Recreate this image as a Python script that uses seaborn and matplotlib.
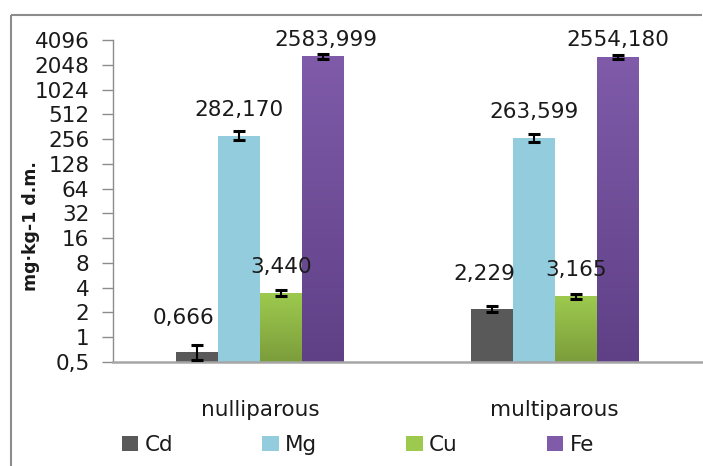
import numpy as np
import pandas as pd
import matplotlib
matplotlib.use("Agg")
import matplotlib.pyplot as plt
from matplotlib.lines import Line2D
from matplotlib.patches import Patch
from matplotlib.colors import LinearSegmentedColormap
import seaborn as sns

# --- data -------------------------------------------------------------
groups = ["nulliparous", "multiparous"]
elements = ["Cd", "Mg", "Cu", "Fe"]
cd_vals = [0.666, 2.229]
mg_vals = [282.170, 263.599]
cu_vals = [3.440, 3.165]
fe_vals = [2583.999, 2554.180]
cd_err = [0.14, 0.20]
mg_err = [35.0, 30.0]
cu_err = [0.30, 0.22]
fe_err = [160.0, 150.0]
label_texts = {
    "Cd": ["0,666", "2,229"],
    "Mg": ["282,170", "263,599"],
    "Cu": ["3,440", "3,165"],
    "Fe": ["2583,999", "2554,180"],
}
ytick_vals = [0.5, 1, 2, 4, 8, 16, 32, 64, 128, 256, 512, 1024, 2048, 4096]
ytick_labels = ["0,5", "1", "2", "4", "8", "16", "32", "64", "128", "256",
                "512", "1024", "2048", "4096"]
ylabel = "mg·kg-1 d.m."

values = {"Cd": cd_vals, "Mg": mg_vals, "Cu": cu_vals, "Fe": fe_vals}
errors = {"Cd": cd_err, "Mg": mg_err, "Cu": cu_err, "Fe": fe_err}

rows = []
for el in elements:
    for g, v in zip(groups, values[el]):
        rows.append({"group": g, "element": el, "value": v})
df = pd.DataFrame(rows)

# --- style --------------------------------------------------------------
palette = {"Cd": "#595959", "Mg": "#93CDDD", "Cu": "#8DB543", "Fe": "#71509A"}
gradients = {
    "Cu": ("#9DCA4E", "#7C9D3B"),
    "Fe": ("#7F5BA9", "#5F4086"),
}
# label offsets (pixels) from the top of each bar: (dx, dy) per group
label_offsets = {
    "Cd": [(-14, 34), (-7, 35)],
    "Mg": [(0, 26), (0, 26)],
    "Cu": [(0, 26), (0, 26)],
    "Fe": [(3, 16), (0, 17)],
}

sns.set_style("white")
plt.rcParams["font.family"] = ["DejaVu Sans"]
FS = 15.5

W, H = 703, 466
fig = plt.figure(figsize=(W / 100, H / 100), dpi=100)
ax = fig.add_axes([113 / W, (H - 362) / H, (702 - 113) / W, (362 - 40) / H])

sns.barplot(data=df, x="group", y="value", hue="element", hue_order=elements,
            order=groups, palette=palette, width=0.57, gap=0, saturation=1,
            errorbar=None, ax=ax, legend=False, linewidth=0)

ax.set_yscale("log", base=2)
ax.set_ylim(0.5, 4096)
ax.set_xlim(-0.5, 1.5)
ax.set_yticks(ytick_vals)
ax.set_yticklabels(ytick_labels)
ax.yaxis.set_minor_locator(matplotlib.ticker.NullLocator())
ax.set_xlabel("")
ax.set_ylabel("")

for s in ["top", "right"]:
    ax.spines[s].set_visible(False)
ax.spines["left"].set_color("#8c8c8c")
ax.spines["bottom"].set_color("#a6a6a6")
ax.spines["left"].set_linewidth(1.0)
ax.spines["bottom"].set_linewidth(1.8)
ax.tick_params(axis="y", which="major", length=8, width=1.0, color="#8c8c8c",
               direction="out", pad=9, labelsize=FS, labelcolor="#1a1a1a", left=True)
ax.tick_params(axis="x", length=0, pad=27, labelsize=FS, labelcolor="#1a1a1a")

# bars are grouped by hue in the container order
containers = ax.containers
for el, cont in zip(elements, containers):
    for i, patch in enumerate(cont.patches):
        cx = patch.get_x() + patch.get_width() / 2
        v = values[el][i]
        e = errors[el][i]
        ax.errorbar(cx, v, yerr=e, fmt="none", ecolor="black", elinewidth=1.5,
                    capsize=4.5, capthick=2.2, zorder=5)
        dx, dy = label_offsets[el][i]
        ax.annotate(label_texts[el][i], xy=(cx, v), xytext=(dx, dy),
                    textcoords="offset pixels", ha="center", va="center",
                    fontsize=FS, color="#1a1a1a", zorder=6)

# vertical gradient fills for the Cu and Fe bars
fig.canvas.draw()
inv = ax.transAxes.inverted()
for el, cont in zip(elements, containers):
    if el not in gradients:
        continue
    cmap = LinearSegmentedColormap.from_list(el, [gradients[el][1], gradients[el][0]])
    grad = np.linspace(0, 1, 256).reshape(-1, 1)
    for patch in cont.patches:
        bb = patch.get_window_extent()
        (x0, y0), (x1, y1) = inv.transform([(bb.x0, bb.y0), (bb.x1, bb.y1)])
        y0 = max(y0, 0)
        im = ax.imshow(grad, cmap=cmap, aspect="auto", origin="lower",
                       extent=[x0, x1, y0, y1], transform=ax.transAxes,
                       zorder=patch.get_zorder() + 0.1, interpolation="bilinear")
        im.set_clip_path(patch)
ax.set_xlim(-0.5, 1.5)
ax.set_ylim(0.5, 4096)

# axis title
fig.text(31 / W, 1 - 226 / H, ylabel, rotation=90, ha="center", va="center",
         fontsize=12.5, fontweight="bold", color="#1a1a1a")

# legend
handles = [Patch(facecolor=gradients[el][0] if el in gradients else palette[el],
                 edgecolor="none") for el in elements]
fig.legend(handles, elements, loc="center", ncol=4,
           bbox_to_anchor=(358 / W, 1 - 445 / H), frameon=False, fontsize=FS,
           handlelength=0.75, handleheight=0.75, handletextpad=0.3,
           columnspacing=4.15, labelcolor="#1a1a1a")

# outer chart frame (left and top edges)
frame_kw = dict(color="#8c8c8c", linewidth=1.5, transform=fig.transFigure,
                solid_capstyle="butt")
fig.add_artist(Line2D([11 / W, 11 / W], [0, 1 - 15 / H], **frame_kw))
fig.add_artist(Line2D([11 / W, 702 / W], [1 - 15 / H, 1 - 15 / H], **frame_kw))

fig.savefig("out.png", dpi=100, facecolor="white")
